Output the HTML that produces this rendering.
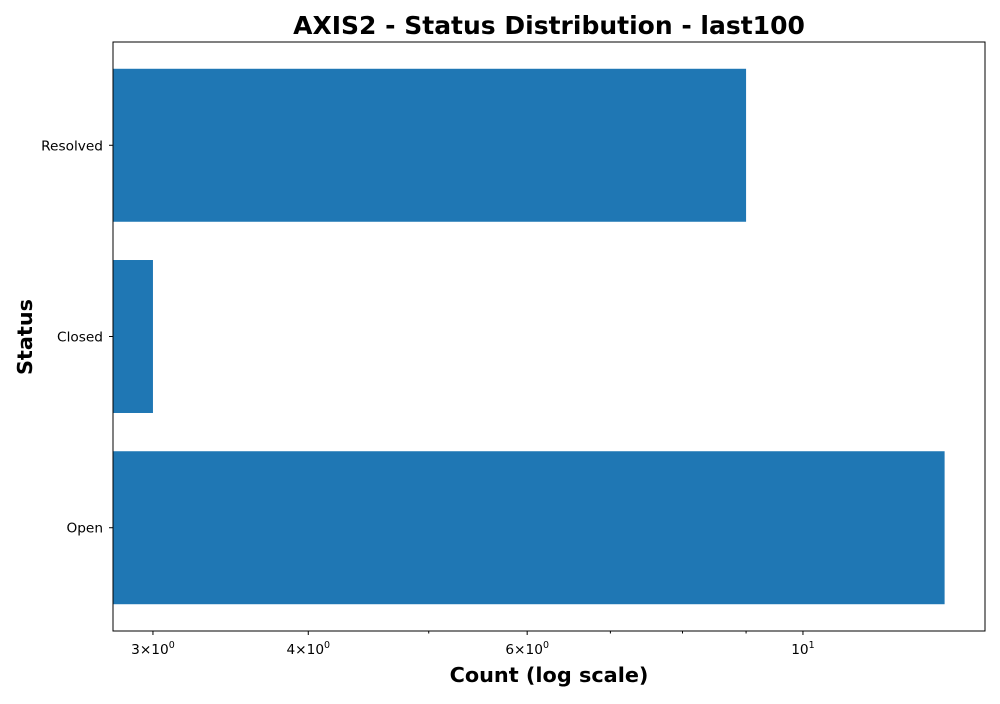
<!DOCTYPE html>
<html><head><meta charset="utf-8"><style>
body{margin:0;background:#fff;font-family:"DejaVu Sans","Liberation Sans",sans-serif}
svg text{font-family:"DejaVu Sans","Liberation Sans",sans-serif}
</style></head><body>
<svg id="c" width="1000" height="700" xmlns="http://www.w3.org/2000/svg">
<rect width="1000" height="700" fill="#fff"/>
<text x="549" y="34" text-anchor="middle" font-size="25" font-weight="bold">AXIS2 - Status Distribution - last100</text>
<text x="549" y="682" text-anchor="middle" font-size="20.8" font-weight="bold">Count (log scale)</text>
<text transform="translate(32,337) rotate(-90)" text-anchor="middle" font-size="20.8" font-weight="bold">Status</text>
<g id="bars"></g><g id="ticks"></g>
<rect x="113" y="42" width="872" height="589" fill="none" stroke="#000" stroke-width="1"/>
</svg>
<script>
const categories = ["Open","Closed","Resolved"];
const counts = [13, 3, 9];
const majorTicks = [3, 4, 6, 10];
const majorLabels = [["3","0"],["4","0"],["6","0"],["1","1"]];
const minorTicks = [5, 7, 8, 9];
const L=113,R=985,T=42,B=631,xmin=2.786,xmax=14.01;
const NS="http://www.w3.org/2000/svg";
function x(v){return L+(Math.log10(v)-Math.log10(xmin))/(Math.log10(xmax)-Math.log10(xmin))*(R-L);}
const yLo=-0.54, yHi=categories.length-1+0.54;
function yc(i){return B-(i-yLo)/(yHi-yLo)*(B-T);}
const bh=0.8*(B-T)/(yHi-yLo);
const bars=document.getElementById('bars'),ticks=document.getElementById('ticks');
function mk(tag,attrs,parent){const e=document.createElementNS(NS,tag);for(const k in attrs)e.setAttribute(k,attrs[k]);parent.appendChild(e);return e;}
categories.forEach((c,i)=>{
  const r=mk('rect',{x:L,y:yc(i)-bh/2,width:Math.max(0,x(counts[i])-L),height:bh,fill:'#1f77b4'},bars);
  
  
  mk('line',{x1:L-4,x2:L,y1:yc(i),y2:yc(i),stroke:'#000'},ticks);
  const t=mk('text',{x:L-10,y:yc(i)+5,'text-anchor':'end','font-size':13.7},ticks);
  t.textContent=c;
  
  
});
majorTicks.forEach((v,i)=>{
  const px=x(v);
  mk('line',{x1:px,x2:px,y1:B,y2:B+4,stroke:'#000'},ticks);
  const t=mk('text',{x:px,y:B+23,'text-anchor':'middle','font-size':13.7},ticks);
  
  
  const lab=majorLabels[i];
  if(lab[0]==="1"){t.innerHTML='10<tspan dy="-6" font-size="9.5">'+lab[1]+'</tspan>';}
  else{t.innerHTML=lab[0]+'\u00d710<tspan dy="-6" font-size="9.5">'+lab[1]+'</tspan>';}
});
minorTicks.forEach(v=>{const px=x(v);mk('line',{x1:px,x2:px,y1:B,y2:B+2.5,stroke:'#000'},ticks);});
</script>
</body></html>
